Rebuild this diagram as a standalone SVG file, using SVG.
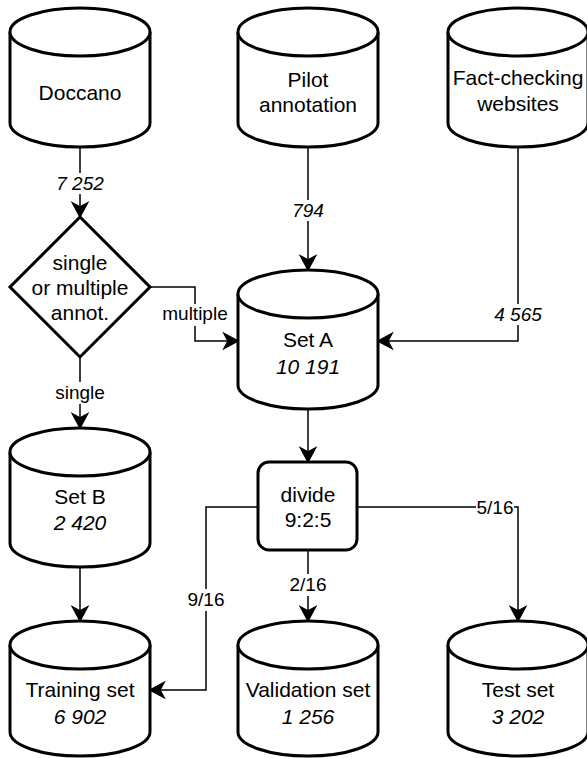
<svg xmlns="http://www.w3.org/2000/svg" width="587" height="758" viewBox="0 0 587 758">
<style>
.shape{fill:#fff;stroke:#000;stroke-width:3;}
.line{fill:none;stroke:#000;stroke-width:1.5;}
.nt{font-family:"Liberation Sans",Arial,sans-serif;font-size:21px;text-anchor:middle;fill:#000;}
.lt{font-family:"Liberation Sans",Arial,sans-serif;font-size:19px;text-anchor:middle;fill:#000;}
.it{font-style:italic;}
.bg{fill:#fff;stroke:none;}
</style>
<defs>
<marker id="arr" markerUnits="userSpaceOnUse" viewBox="-16 -9 18 18" refX="-10" refY="0" markerWidth="18" markerHeight="18" orient="auto">
<path d="M0,0 L-14,-7.5 L-10,0 L-14,7.5 Z" fill="#000" stroke="#000" stroke-width="1.5" stroke-linejoin="miter"/>
</marker>
</defs>

<g id="connectors">
<path class="line" d="M80,147 V207" marker-end="url(#arr)"/>
<path class="line" d="M150,287 H195 V341 H228" marker-end="url(#arr)"/>
<path class="line" d="M80,357 V418" marker-end="url(#arr)"/>
<path class="line" d="M308,147 V260" marker-end="url(#arr)"/>
<path class="line" d="M518,147 V341 H388" marker-end="url(#arr)"/>
<path class="line" d="M308,409 V452" marker-end="url(#arr)"/>
<path class="line" d="M258,507 H206 V690 H160" marker-end="url(#arr)"/>
<path class="line" d="M308,550 V611" marker-end="url(#arr)"/>
<path class="line" d="M357,507 H518 V611" marker-end="url(#arr)"/>
<path class="line" d="M80,567 V611" marker-end="url(#arr)"/>

<rect class="bg" x="55" y="173" width="50" height="21"/>
<text class="lt it" x="80" y="190">7 252</text>
<rect class="bg" x="161" y="304" width="68" height="22"/>
<text class="lt" x="195" y="320">multiple</text>
<rect class="bg" x="54" y="382" width="52" height="22"/>
<text class="lt" x="80" y="399">single</text>
<rect class="bg" x="291" y="200" width="34" height="21"/>
<text class="lt it" x="308" y="217">794</text>
<rect class="bg" x="493" y="304" width="50" height="21"/>
<text class="lt it" x="518" y="321">4 565</text>
<rect class="bg" x="186" y="589" width="40" height="22"/>
<text class="lt" x="206" y="606">9/16</text>
<rect class="bg" x="288" y="574" width="40" height="22"/>
<text class="lt" x="308" y="591">2/16</text>
<rect class="bg" x="476" y="497" width="38" height="21"/>
<text class="lt" x="495" y="514">5/16</text>
</g>

<g id="doccano">
<path class="shape" d="M10,32 A70,24 0 0 1 150,32 L150,123 A70,24 0 0 1 10,123 Z"/>
<path class="shape" d="M10,32 A70,24 0 0 0 150,32" fill="none"/>
<text class="nt" x="80" y="100">Doccano</text>
</g>

<g id="pilot">
<path class="shape" d="M238,32 A70,24 0 0 1 378,32 L378,123 A70,24 0 0 1 238,123 Z"/>
<path class="shape" d="M238,32 A70,24 0 0 0 378,32" fill="none"/>
<text class="nt" x="308" y="87">Pilot</text>
<text class="nt" x="308" y="112">annotation</text>
</g>

<g id="factcheck">
<path class="shape" d="M448,32 A70,24 0 0 1 588,32 L588,123 A70,24 0 0 1 448,123 Z"/>
<path class="shape" d="M448,32 A70,24 0 0 0 588,32" fill="none"/>
<text class="nt" x="518" y="85">Fact-checking</text>
<text class="nt" x="518" y="111">websites</text>
</g>

<g id="decision">
<polygon class="shape" points="80,217 150,287 80,357 10,287"/>
<text class="nt" x="80" y="270">single</text>
<text class="nt" x="80" y="295">or multiple</text>
<text class="nt" x="80" y="320">annot.</text>
</g>

<g id="setA">
<path class="shape" d="M238,294 A70,24 0 0 1 378,294 L378,385 A70,24 0 0 1 238,385 Z"/>
<path class="shape" d="M238,294 A70,24 0 0 0 378,294" fill="none"/>
<text class="nt" x="308" y="347">Set A</text>
<text class="nt it" x="308" y="374">10 191</text>
</g>

<g id="setB">
<path class="shape" d="M10,452 A70,24 0 0 1 150,452 L150,543 A70,24 0 0 1 10,543 Z"/>
<path class="shape" d="M10,452 A70,24 0 0 0 150,452" fill="none"/>
<text class="nt" x="80" y="504">Set B</text>
<text class="nt it" x="80" y="530">2 420</text>
</g>

<g id="divide">
<rect class="shape" x="258" y="462" width="99" height="88" rx="11" ry="11"/>
<text class="nt" x="308" y="502">divide</text>
<text class="nt" x="308" y="527">9:2:5</text>
</g>

<g id="training">
<path class="shape" d="M10,645 A70,24 0 0 1 150,645 L150,732 A70,24 0 0 1 10,732 Z"/>
<path class="shape" d="M10,645 A70,24 0 0 0 150,645" fill="none"/>
<text class="nt" x="80" y="697">Training set</text>
<text class="nt it" x="80" y="724">6 902</text>
</g>

<g id="validation">
<path class="shape" d="M238,645 A70,24 0 0 1 378,645 L378,732 A70,24 0 0 1 238,732 Z"/>
<path class="shape" d="M238,645 A70,24 0 0 0 378,645" fill="none"/>
<text class="nt" x="308" y="697">Validation set</text>
<text class="nt it" x="308" y="724">1 256</text>
</g>

<g id="test">
<path class="shape" d="M448,645 A70,24 0 0 1 588,645 L588,732 A70,24 0 0 1 448,732 Z"/>
<path class="shape" d="M448,645 A70,24 0 0 0 588,645" fill="none"/>
<text class="nt" x="518" y="697">Test set</text>
<text class="nt it" x="518" y="724">3 202</text>
</g>
</svg>
